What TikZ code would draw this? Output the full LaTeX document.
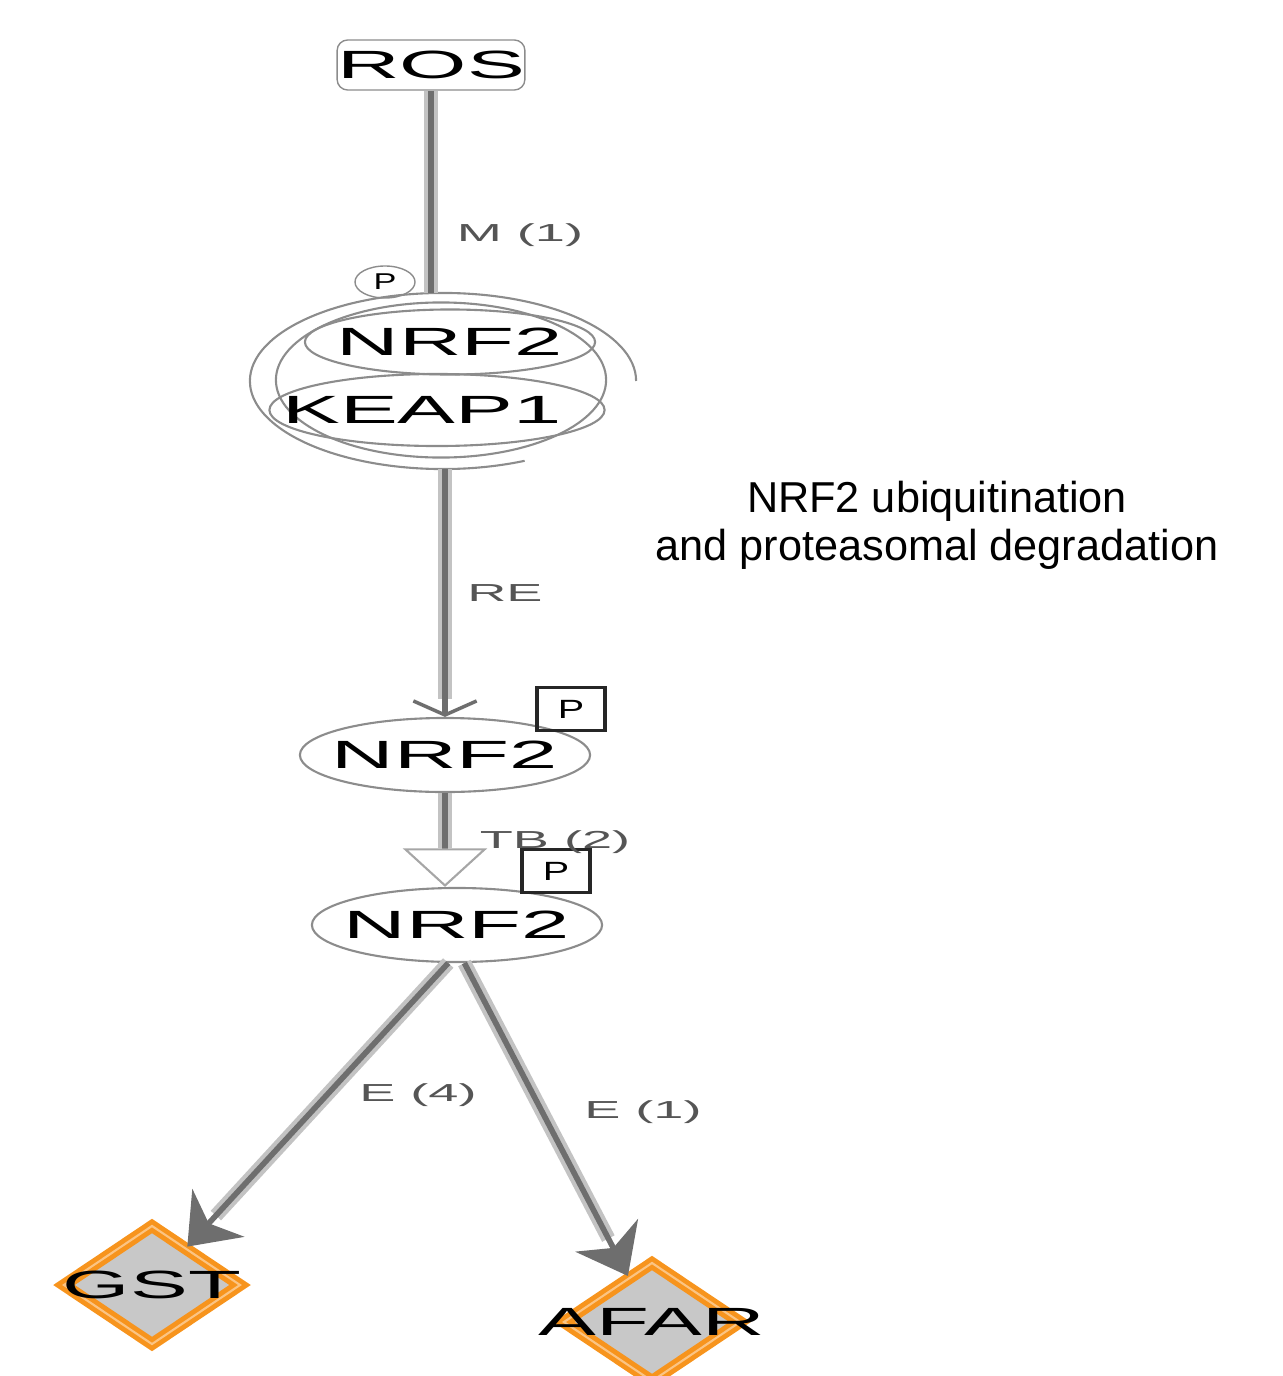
\documentclass[tikz,border=0pt]{standalone}
\usepackage{fontspec}
\setmainfont{Liberation Sans}
\newfontfamily\widefont[FakeStretch=2.2]{Liberation Sans}
\newfontfamily\pfont[FakeStretch=1.5]{Liberation Sans}
\usetikzlibrary{arrows.meta, positioning, shapes.geometric}
\definecolor{geneorange}{RGB}{247,148,29}
\definecolor{genefill}{RGB}{200,200,200}
\definecolor{outlinegray}{RGB}{140,140,140}
\definecolor{bandgray}{RGB}{195,195,195}
\definecolor{coregray}{RGB}{110,110,110}
\definecolor{labelgray}{RGB}{85,85,85}

\begin{document}
\begin{tikzpicture}[x=0.01cm, y=0.01cm,
    molecule/.style={ellipse, draw=outlinegray, line width=0.6pt, inner sep=0pt,
                     minimum width=2.9cm, minimum height=0.74cm},
    namelabel/.style={font=\widefont\fontsize{11.2}{12}\selectfont},
    edgelabel/.style={font=\widefont\fontsize{7}{8}\selectfont, text=labelgray},
    band/.style={line width=4pt, draw=bandgray},
    core/.style={line width=1.6pt, draw=coregray},
    pbox/.style={draw=black!85, line width=1pt, inner sep=0pt,
                 minimum width=0.68cm, minimum height=0.43cm,
                 font=\pfont\fontsize{7.5}{8}\selectfont},
    gene/.style={diamond, draw=geneorange, line width=1.4pt, double=geneorange!55,
                 double distance=0.6pt, fill=genefill, inner sep=0pt,
                 minimum width=1.78cm, minimum height=1.2cm}]
    \useasboundingbox (0,0) rectangle (1282,-1376);

    \node[draw=outlinegray, rounded corners=3pt, inner sep=0pt,
          minimum width=1.77cm, minimum height=0.5cm, namelabel]  (ROS)      at (431,-65)   {ROS};

    % NRF2-KEAP1 complex
    \node[ellipse, draw=outlinegray, line width=0.6pt, inner sep=0pt,
          minimum width=3.3cm, minimum height=1.55cm]               (complex)  at (441,-380)  {};
    \draw[draw=outlinegray, line width=0.6pt] (443,-381) ++(1.93cm,0)
        arc[start angle=0, end angle=295, x radius=1.93cm, y radius=0.88cm];
    \coordinate (rim top)    at (443,-293);
    \coordinate (rim bottom) at (443,-469);
    \node[molecule, minimum height=0.65cm,
          label={[namelabel]center:NRF2}]                            (NRF2 bound) at (450,-342) {};
    \node[molecule, minimum width=3.35cm, minimum height=0.72cm,
          label={[namelabel, xshift=-0.15cm]center:KEAP1}]           (KEAP1)    at (437,-410)  {};
    \node[ellipse, draw=outlinegray, inner sep=0pt, minimum width=0.6cm, minimum height=0.32cm,
          font=\pfont\fontsize{6.5}{7}\selectfont]                  (P bound)  at (385,-282)  {P};

    \node[molecule, label={[namelabel]center:NRF2}]                  (NRF2 free)    at (445,-755) {};
    \node[pbox]                                                      (P free)       at (571,-709) {P};
    \node[molecule, label={[namelabel]center:NRF2}]                  (NRF2 nuclear) at (457,-925) {};
    \node[pbox]                                                      (P nuclear)    at (556,-871) {P};

    \node[gene, label={[namelabel]center:GST}]                       (GST)      at (152,-1285) {};
    \node[gene, label={[namelabel]center:AFAR}]                      (AFAR)     at (652,-1322) {};

    \node[align=center, font=\fontsize{12.3}{13.7}\selectfont]       (note)     at (937,-525)  {NRF2 ubiquitination\\and proteasomal degradation};

    % connectors
    \draw[band] (ROS) -- (ROS |- rim top);
    \draw[core] (ROS) -- (ROS |- rim top);
    \node[edgelabel] (M label) at (520,-235) {M (1)};

    \draw[band, shorten >=5pt] (rim bottom -| NRF2 free) -- (NRF2 free);
    \draw[core, -{Straight Barb[length=4pt, width=18pt, line width=1pt]}]
        (rim bottom -| NRF2 free) -- (NRF2 free);
    \node[edgelabel] (RE label) at (505,-593) {RE};

    \draw[band, shorten >=11pt] (NRF2 free) -- (NRF2 free |- NRF2 nuclear.north);
    \draw[core, -{Triangle[open, length=11pt, width=24pt, line width=0.6pt, color=gray!70]}]
        (NRF2 free) -- (NRF2 free |- NRF2 nuclear.north);
    \node[edgelabel] (TB label) at (555,-842) {TB (2)};

    \draw[band, shorten >=12pt] (NRF2 nuclear.257) -- (GST);
    \draw[core, -{Stealth[length=13pt, width=20pt, inset=4pt]}] (NRF2 nuclear.257) -- (GST);
    \node[edgelabel] (E4 label) at (418,-1095) {E (4)};

    \draw[band, shorten >=12pt] (NRF2 nuclear.281) -- (AFAR);
    \draw[core, -{Stealth[length=13pt, width=20pt, inset=4pt]}] (NRF2 nuclear.281) -- (AFAR);
    \node[edgelabel] (E1 label) at (643,-1112) {E (1)};
\end{tikzpicture}
\end{document}
